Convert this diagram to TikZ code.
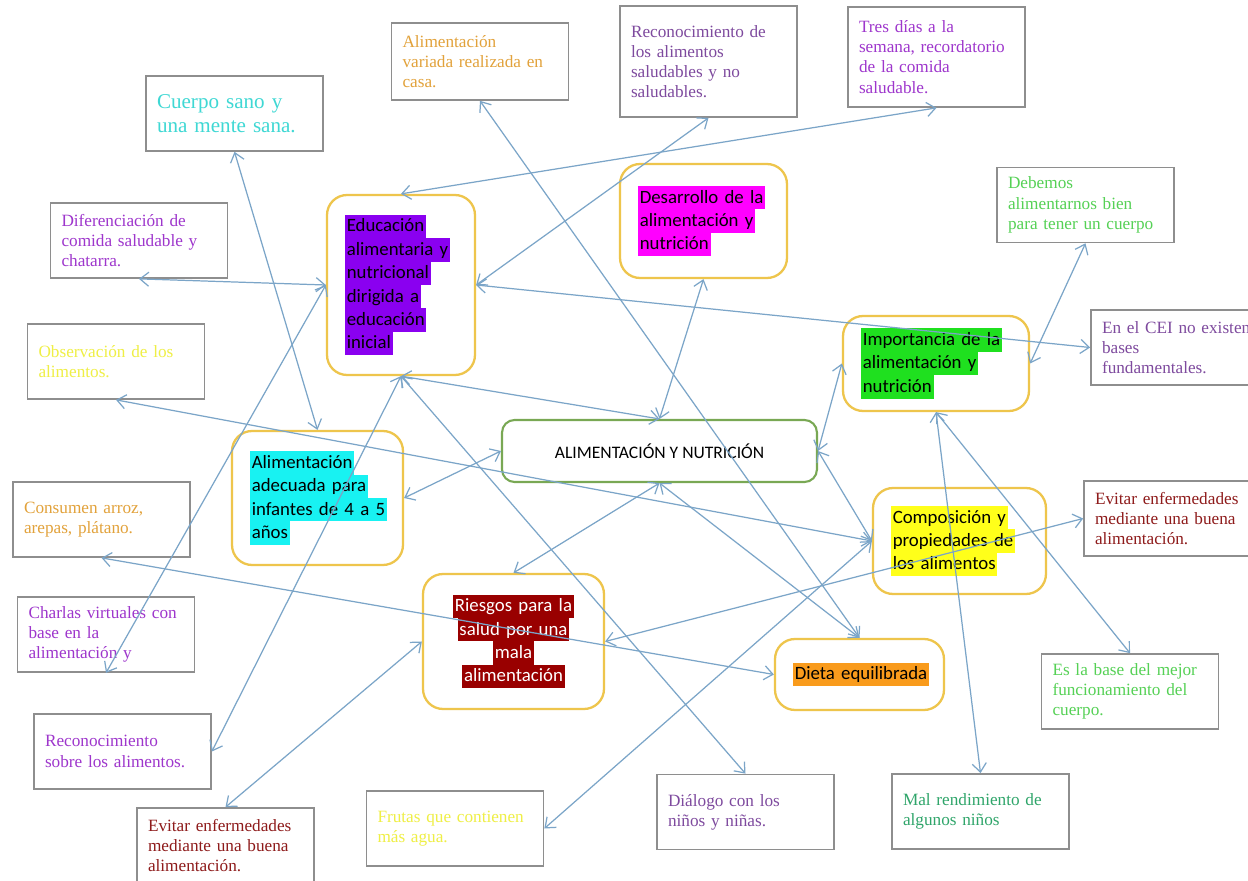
\documentclass[tikz,border=0pt]{standalone}
\usepackage{fontspec}
\setmainfont{Liberation Serif}
\newfontfamily\calibri{Carlito}
\usetikzlibrary{arrows.meta}
\usepackage{tikz}
\hyphenpenalty=10000
\exhyphenpenalty=10000

\definecolor{gris}{HTML}{8E8E8E}
\definecolor{oro}{HTML}{EEC54C}
\definecolor{verdecaja}{HTML}{79A854}
\definecolor{flecha}{HTML}{7BA5C8}
\definecolor{naranja}{HTML}{E2A23B}
\definecolor{morado}{HTML}{7E4A9E}
\definecolor{lila}{HTML}{9E36CC}
\definecolor{celeste}{HTML}{3FD8D4}
\definecolor{verdeclaro}{HTML}{55D155}
\definecolor{amarillo}{HTML}{EFEF45}
\definecolor{granate}{HTML}{8E1B1B}
\definecolor{verdemar}{HTML}{2FA56A}
\definecolor{hlvioleta}{HTML}{8A00F0}
\definecolor{hlmagenta}{HTML}{FF00FF}
\definecolor{hlverde}{HTML}{1FE01F}
\definecolor{hlcian}{HTML}{18F2F2}
\definecolor{hlamarillo}{HTML}{FFFF1A}
\definecolor{hlgranate}{HTML}{990000}
\definecolor{hlnaranja}{HTML}{F99B1C}

% highlighted line, as in the word processor
\newcommand{\resalta}[2]{{\setlength{\fboxsep}{0pt}\colorbox{#1}{\rule[-0.27\baselineskip]{0pt}{\baselineskip}\kern1pt#2\kern1pt}}}

\tikzset{
  leaf/.style={draw=gris, line width=1pt, fill=white, rectangle, text width=3.1cm,
    inner xsep=0.22cm, inner ysep=2pt, minimum height=1.5cm, align=left,
    font=\fontsize{9.8}{11.5}\selectfont},
  topic/.style={draw=oro, line width=1.3pt, rounded corners=0.4cm, fill=white,
    inner xsep=0.36cm, inner ysep=2pt, align=left,
    font=\calibri\fontsize{10.7}{13.3}\selectfont},
  core/.style={draw=verdecaja, line width=1.2pt, rounded corners=0.25cm, fill=white,
    minimum width=6.3cm, minimum height=1.24cm, font=\calibri\fontsize{10}{12}\selectfont},
  link/.style={{Straight Barb[length=5pt,width=8pt]}-{Straight Barb[length=5pt,width=8pt]},
    draw=flecha, line width=0.7pt}
}

\begin{document}
\begin{tikzpicture}[x=0.02cm, y=-0.02cm]
    \pgfdeclarelayer{foreground}
    \pgfsetlayers{main,foreground}
    \useasboundingbox (0,0) rectangle (1248,881);
    \fill[white] (0,0) rectangle (1248,881);
    \clip (0,0) rectangle (1248,881);

    % centre
    \node[core] (alim-nutri) at (659.5,451) {ALIMENTACIÓN Y NUTRICIÓN};

    % yellow topics
    \node[topic, text width=2.24cm, minimum height=3.6cm] (edu-inicial) at (401,285)
      {\resalta{hlvioleta}{Educación}\\\resalta{hlvioleta}{alimentaria y}\\\resalta{hlvioleta}{nutricional}\\\resalta{hlvioleta}{dirigida a}\\\resalta{hlvioleta}{educación}\\\resalta{hlvioleta}{inicial}};
    \node[topic, text width=2.62cm, minimum height=2.28cm] (desarrollo) at (703.5,221)
      {\resalta{hlmagenta}{Desarrollo de la}\\\resalta{hlmagenta}{alimentación y}\\\resalta{hlmagenta}{nutrición}};
    \node[topic, text width=3.0cm, minimum height=1.9cm] (importancia) at (936,363.5)
      {\resalta{hlverde}{Importancia de la}\\\resalta{hlverde}{alimentación y}\\\resalta{hlverde}{nutrición}};
    \node[topic, text width=2.7cm, minimum height=2.68cm] (alim-adecuada) at (317.5,498)
      {\resalta{hlcian}{Alimentación}\\\resalta{hlcian}{adecuada para}\\\resalta{hlcian}{infantes de 4 a 5}\\\resalta{hlcian}{años}};
    \node[topic, text width=2.74cm, minimum height=2.12cm] (composicion) at (959.5,541)
      {\resalta{hlamarillo}{Composición y}\\\resalta{hlamarillo}{propiedades de}\\\resalta{hlamarillo}{los alimentos}};
    \node[topic, text width=2.9cm, minimum height=2.7cm, align=center, text=white] (riesgos) at (513.5,641.5)
      {\resalta{hlgranate}{Riesgos para la}\\\resalta{hlgranate}{salud por una}\\\resalta{hlgranate}{mala}\\\resalta{hlgranate}{alimentación}};
    \node[topic, text width=2.66cm, minimum height=1.42cm] (dieta) at (859.5,674.5)
      {\resalta{hlnaranja}{Dieta equilibrada}};

    % grey boxes
    \node[leaf, text=naranja, minimum height=1.54cm] (variada-casa) at (480,61.5) {Alimentación\\variada realizada en\\casa.};
    \node[leaf, text=morado, minimum height=2.22cm] (rec-saludables) at (708.5,61.5) {Reconocimiento de\\los alimentos\\saludables y no\\saludables.};
    \node[leaf, text=lila, minimum height=2cm] (tres-dias) at (936.5,57) {Tres días a la\\semana, recordatorio\\de la comida\\saludable.};
    \node[leaf, text=celeste, font=\fontsize{12}{14}\selectfont] (cuerpo-sano) at (234.5,113.5) {Cuerpo sano y\\una mente sana.};
    \node[leaf, text=lila] (diferenciacion) at (139,240.5) {Diferenciación de\\comida saludable y\\chatarra.};
    \node[leaf, text=verdeclaro] (debemos) at (1085.5,205) {Debemos\\alimentarnos bien\\para tener un cuerpo};
    \node[leaf, text=morado] (cei-bases) at (1179.5,347.5) {En el CEI no existen\\bases\\fundamentales.};
    \node[leaf, text=amarillo] (observacion) at (116,361.5) {Observación de los\\alimentos.};
    \node[leaf, text=naranja] (consumen) at (101.5,519.5) {Consumen arroz,\\arepas, plátano.};
    \node[leaf, text=lila] (charlas) at (106,634.5) {Charlas virtuales con\\base en la\\alimentación y};
    \node[leaf, text=lila] (rec-sobre) at (122.5,751.5) {Reconocimiento\\sobre los alimentos.};
    \node[leaf, text=granate] (evitar-izq) at (225.5,845.5) {Evitar enfermedades\\mediante una buena\\alimentación.};
    \node[leaf, text=amarillo] (frutas) at (455,828.5) {Frutas que contienen\\más agua.};
    \node[leaf, text=morado] (dialogo) at (745.5,812) {Diálogo con los\\niños y niñas.};
    \node[leaf, text=verdemar] (mal-rend) at (980.5,811.5) {Mal rendimiento de\\algunos niños};
    \node[leaf, text=verdeclaro] (base-cuerpo) at (1130,691.5) {Es la base del mejor\\funcionamiento del\\cuerpo.};
    \node[leaf, text=granate] (evitar-der) at (1172.5,518.5) {Evitar enfermedades\\mediante una buena\\alimentación.};

    \begin{pgfonlayer}{foreground}
    \draw[link] (edu-inicial.south) -- (rec-sobre.east);
    \draw[link] (edu-inicial.south) -- (dialogo.north);
    \draw[link] (edu-inicial.south) -- (alim-nutri.north);
    \draw[link] (edu-inicial.east) -- (rec-saludables.south);
    \draw[link] (edu-inicial.north) -- (tres-dias.south);
    \draw[link] (edu-inicial.east) -- (cei-bases.west);
    \draw[link] (edu-inicial.west) -- (diferenciacion.south);
    \draw[link] (edu-inicial.west) -- (charlas.south);
    \draw[link] (variada-casa.south) -- (dieta.north);
    \draw[link] (cuerpo-sano.south) -- (alim-adecuada.north);
    \draw[link] (alim-nutri.north) -- (desarrollo.south);
    \draw[link] (alim-nutri.west) -- (alim-adecuada.east);
    \draw[link] (alim-nutri.east) -- (importancia.west);
    \draw[link] (alim-nutri.east) -- (composicion.west);
    \draw[link] (alim-nutri.south) -- (riesgos.north);
    \draw[link] (alim-nutri.south) -- (dieta.north);
    \draw[link] (observacion.south) -- (composicion.west);
    \draw[link] (composicion.west) -- (frutas.east);
    \draw[link] (importancia.east) -- (debemos.south);
    \draw[link] (importancia.south) -- (mal-rend.north);
    \draw[link] (importancia.south) -- (base-cuerpo.north);
    \draw[link] (riesgos.east) -- (evitar-der.west);
    \draw[link] (riesgos.west) -- (evitar-izq.north);
    \draw[link] (consumen.south) -- (dieta.west);
    \end{pgfonlayer}
\end{tikzpicture}
\end{document}
